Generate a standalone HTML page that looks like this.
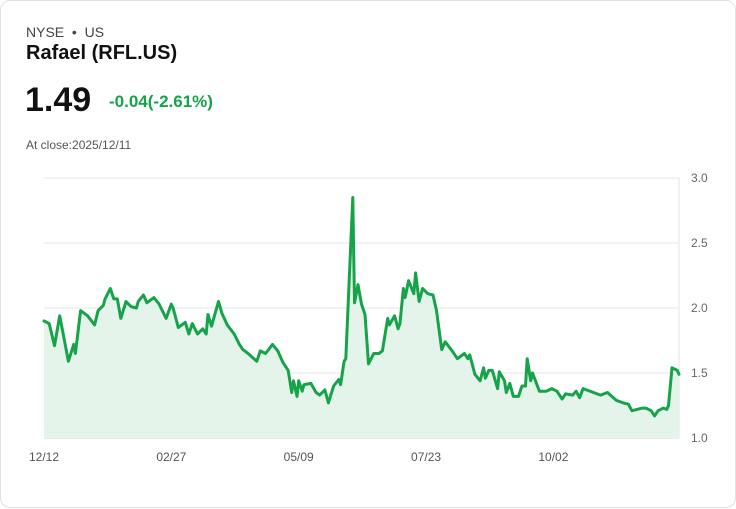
<!DOCTYPE html>
<html><head><meta charset="utf-8"><style>
body{margin:0;background:#fff;font-family:"Liberation Sans",sans-serif;}
.card{position:absolute;left:0;top:0;width:734px;height:506px;border:1px solid #dfe3e8;border-radius:10px;background:#fff;}
.t{position:absolute;white-space:nowrap;}
</style></head><body>
<div class="card">
<div class="t" style="left:25px;top:23px;font-size:14px;color:#444">NYSE &nbsp;•&nbsp; US</div>
<div class="t" style="left:25px;top:41px;font-size:20px;font-weight:bold;color:#111">Rafael (RFL.US)</div>
<div class="t" style="left:24px;top:80px;font-size:34px;font-weight:bold;color:#111">1.49</div>
<div class="t" style="left:108px;top:91px;font-size:17px;font-weight:bold;color:#16a34a">-0.04(-2.61%)</div>
<div class="t" style="left:25px;top:137px;font-size:12px;color:#555">At close:2025/12/11</div>
<svg id="chart" width="736" height="508" style="position:absolute;left:0;top:0"></svg>
</div>
<script>
const days=[0,3,6,9,11,14,17,18,21,25,29,31,34,35,38,40,42,44,47,50,53,54,57,59,63,66,70,73,74,77,81,83,85,88,91,93,94,96,100,102,105,109,112,114,117,122,124,127,131,134,137,140,142,143,145,146,148,149,153,156,158,161,163,166,169,170,172,173,177,178,180,182,184,186,189,192,194,197,198,201,203,204,206,207,209,212,213,215,217,220,223,225,228,230,234,237,241,243,244,247,250,252,253,255,257,260,261,264,265,267,269,272,274,276,277,279,280,284,288,291,294,297,299,303,305,307,309,315,319,323,328,332,335,337,343,345,348,350,352,355,357,358,360,363,364];
const prices=[1.90,1.88,1.71,1.94,1.80,1.59,1.72,1.65,1.98,1.94,1.87,1.98,2.02,2.07,2.15,2.07,2.07,1.92,2.05,2.01,2.00,2.05,2.10,2.04,2.08,2.03,1.92,2.03,2.00,1.85,1.89,1.80,1.88,1.80,1.84,1.80,1.95,1.86,2.05,1.96,1.87,1.80,1.72,1.68,1.65,1.59,1.67,1.65,1.72,1.67,1.58,1.52,1.35,1.44,1.32,1.44,1.36,1.41,1.42,1.35,1.33,1.37,1.27,1.40,1.45,1.41,1.59,1.61,2.85,2.04,2.18,2.03,1.95,1.57,1.65,1.65,1.67,1.92,1.87,1.94,1.84,1.88,2.15,2.08,2.21,2.11,2.27,2.05,2.15,2.11,2.10,1.98,1.68,1.74,1.67,1.61,1.65,1.61,1.64,1.49,1.44,1.54,1.46,1.52,1.52,1.38,1.51,1.44,1.35,1.42,1.32,1.32,1.40,1.40,1.61,1.44,1.50,1.36,1.36,1.38,1.36,1.30,1.34,1.33,1.36,1.31,1.38,1.35,1.33,1.35,1.29,1.27,1.26,1.21,1.23,1.23,1.21,1.17,1.21,1.23,1.22,1.25,1.54,1.52,1.49];
const yTicks=[1.0,1.5,2.0,2.5,3.0];
const xTickDays=[0,73,146,219,292];
const xTickLabels=["12/12","02/27","05/09","07/23","10/02"];
const NS="http://www.w3.org/2000/svg",svg=document.getElementById('chart');
const X0=43,X1=678,Y0=437,Y1=177;
const xs=d=>X0+(d/364)*(X1-X0);
const ys=v=>Y0-(v-1)/(3-1)*(Y0-Y1);
function mk(t,a){const e=document.createElementNS(NS,t);for(const k in a)e.setAttribute(k,a[k]);svg.appendChild(e);return e;}
yTicks.forEach(v=>{
 const l=mk('line',{x1:X0,x2:X1,y1:ys(v),y2:ys(v),stroke:v===1?'#cfd4d9':'#e3e6ea','stroke-width':1});
 
 
 const t=mk('text',{x:690,y:ys(v)+4,'font-size':12,fill:'#666','font-family':'Liberation Sans'});
 t.textContent=v.toFixed(1);
 
 
});
const ax=mk('line',{x1:X1,x2:X1,y1:Y1,y2:Y0,stroke:'#e3e6ea'});


xTickDays.forEach((d,i)=>{
 const t=mk('text',{x:xs(d),y:460,'font-size':12,fill:'#555','text-anchor':'middle','font-family':'Liberation Sans'});
 t.textContent=xTickLabels[i];
 
 
});
let p=days.map((d,i)=>(i?'L':'M')+xs(d).toFixed(1)+','+ys(prices[i]).toFixed(1)).join('');
const area=mk('path',{d:p+'L'+xs(days[days.length-1])+','+Y0+'L'+xs(days[0])+','+Y0+'Z',fill:'#e5f4ea'});


const line=mk('path',{d:p,fill:'none',stroke:'#16a34a','stroke-width':3,'stroke-linejoin':'round','stroke-linecap':'round'});


</script>
</body></html>
